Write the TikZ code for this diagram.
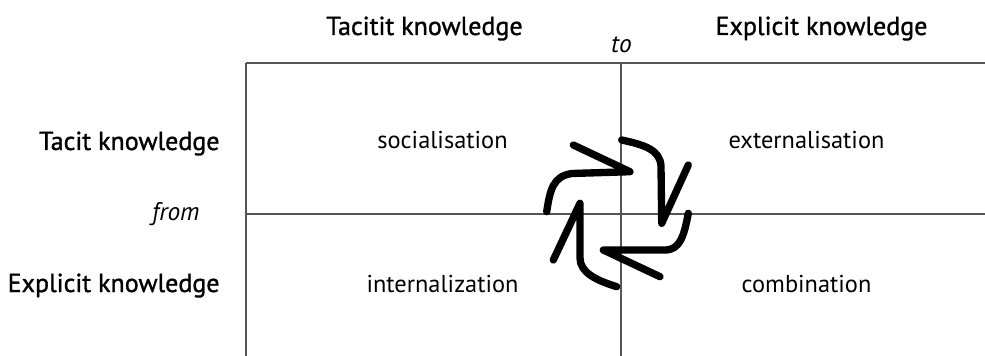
\documentclass[tikz,border=0pt]{standalone}
\usepackage{fontspec}
\setmainfont{PT Sans}
\newfontface\headfont{PT Sans}[FakeBold=1.2]

\tikzset{every picture/.style={line width=0.75pt}}
\tikzset{
  gridline/.style={color={rgb, 255:red, 85; green, 85; blue, 85 }, line width=1.5},
  turnarrow/.style={line width=5.5, line cap=round, line join=round},
  headtext/.style={font=\headfont\fontsize{19.5}{22}\selectfont, inner sep=0.75pt},
  celltext/.style={font=\fontsize{18.3}{21}\selectfont, inner sep=0.75pt},
  smalltext/.style={font=\itshape\fontsize{19}{22}\selectfont, inner sep=0.75pt}
}

\begin{document}
\begin{tikzpicture}[x=0.75pt,y=0.75pt,yscale=-1,xscale=1]
\useasboundingbox (0,0) rectangle (985,356);

%Straight Lines
\draw [gridline] (246,63) -- (985,63) ;
\draw [gridline] (246,214) -- (985,214) ;
\draw [gridline] (246,63) -- (246,356) ;
\draw [gridline] (621,63) -- (621,356) ;

%Curve Lines (socialisation -> externalisation)
\draw [turnarrow] (546.7,211.7) .. controls (550,190) and (553,176) .. (572,173.5) -- (630,171.7) -- (573.3,145) ;
%Curve Lines (externalisation -> combination)
\draw [turnarrow] (621.7,140) .. controls (645,145) and (660,150) .. (661,166) -- (661.7,223.3) -- (688.3,165) ;
%Curve Lines (combination -> internalization)
\draw [turnarrow] (688.3,213.3) .. controls (684,236) and (680,250) .. (665,250) -- (603.3,250) -- (660,276.7) ;
%Curve Lines (internalization -> socialisation)
\draw [turnarrow] (616.7,286.7) .. controls (595,280) and (580,272) .. (580,258) -- (580,203.3) -- (553.3,260) ;

% Text Node
\draw (424.5,35) node [anchor=base, headtext] (tacittop) {Tacitit knowledge};
% Text Node
\draw (821.5,35) node [anchor=base, headtext] (explicittop) {Explicit knowledge};
% Text Node
\draw (621.5,53) node [anchor=base, smalltext] (to) {to};
% Text Node
\draw (201,220) node [anchor=base east, smalltext] (from) {from};
% Text Node
\draw (221,150) node [anchor=base east, headtext] (tacitleft) {Tacit knowledge};
% Text Node
\draw (221,292) node [anchor=base east, headtext] (explicitleft) {Explicit knowledge};
% Text Node
\draw (442.5,149) node [anchor=base, celltext] (socialisation) {socialisation};
% Text Node
\draw (806.5,149) node [anchor=base, celltext] (externalisation) {externalisation};
% Text Node
\draw (442.5,292) node [anchor=base, celltext] (internalization) {internalization};
% Text Node
\draw (806.5,292) node [anchor=base, celltext] (combination) {combination};

\end{tikzpicture}
\end{document}
